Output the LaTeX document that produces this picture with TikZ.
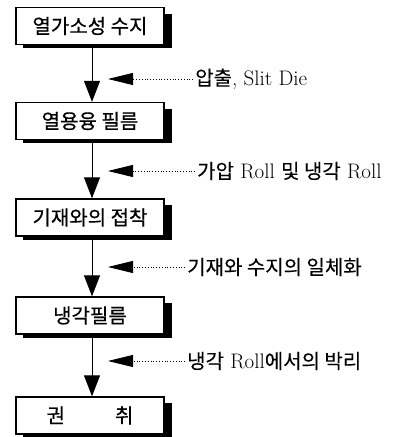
\documentclass[tikz,border=0pt]{standalone}
\usepackage{fontspec}
\newfontfamily\kr[FakeBold=0.5]{Noto Sans CJK KR}
\newfontfamily\krl[FakeBold=0.1]{Noto Sans CJK KR}
\usetikzlibrary{arrows.meta}
\begin{document}
\begin{tikzpicture}[x=1pt,y=1pt,
  stepbox/.style={draw,line width=1.3pt,fill=white,minimum width=148pt,minimum height=37pt,inner sep=0pt,font=\kr\fontsize{20}{22}\selectfont},
  flow/.style={line width=1pt,-{Triangle[length=21pt,width=16pt]}},
  note/.style={anchor=west,inner sep=2pt,font=\fontsize{21}{23}\selectfont},
  pointer/.style={dotted,line width=0.8pt,-{Triangle[length=25pt,width=12pt]}}]
\useasboundingbox (0,0) rectangle (398,437);
% boxes
\node[stepbox] (b1) at (90,411) {열가소성 수지};
\node[stepbox] (b2) at (90,316) {열용융 필름};
\node[stepbox] (b3) at (90,219.5) {기재와의 접착};
\node[stepbox] (b4) at (90,121.5) {냉각필름};
\node[stepbox] (b5) at (90,21.5) {권\hspace{2.5em}취};
% shadows
\foreach \b in {b1,b2,b3,b4,b5}{
  \fill ([yshift=-7pt]\b.north east) rectangle ([xshift=7pt,yshift=-3pt]\b.south east);
  \fill ([xshift=8pt]\b.south west) rectangle ([xshift=7pt,yshift=-3pt]\b.south east);
}
% main flow
\draw[flow] ([xshift=2pt]b1.south) -- ([xshift=2pt]b2.north);
\draw[flow] ([xshift=2pt]b2.south) -- ([xshift=2pt]b3.north);
\draw[flow] ([xshift=2pt]b3.south) -- ([xshift=2pt]b4.north);
\draw[flow] ([xshift=2pt]b4.south) -- ([xshift=2pt]b5.north);
% notes
\node[note] (n1) at (193,358) {{\krl\fontsize{20}{22}\selectfont 압출}, Slit Die};
\node[note] (n2) at (195,266) {{\krl\fontsize{20}{22}\selectfont 가압} Roll {\krl\fontsize{20}{22}\selectfont 및 냉각} Roll};
\node[note] (n3) at (185,170) {\krl\fontsize{20}{22}\selectfont 기재와 수지의 일체화};
\node[note] (n4) at (185,76) {{\krl\fontsize{20}{22}\selectfont 냉각} Roll{\krl\fontsize{20}{22}\selectfont 에서의 박리}};
\coordinate (t1) at (108,358);
\coordinate (t2) at (108,266);
\coordinate (t3) at (108,170);
\coordinate (t4) at (108,76);
\draw[pointer] (n1.west) -- (t1);
\draw[pointer] (n2.west) -- (t2);
\draw[pointer] (n3.west) -- (t3);
\draw[pointer] (n4.west) -- (t4);
\end{tikzpicture}
\end{document}
